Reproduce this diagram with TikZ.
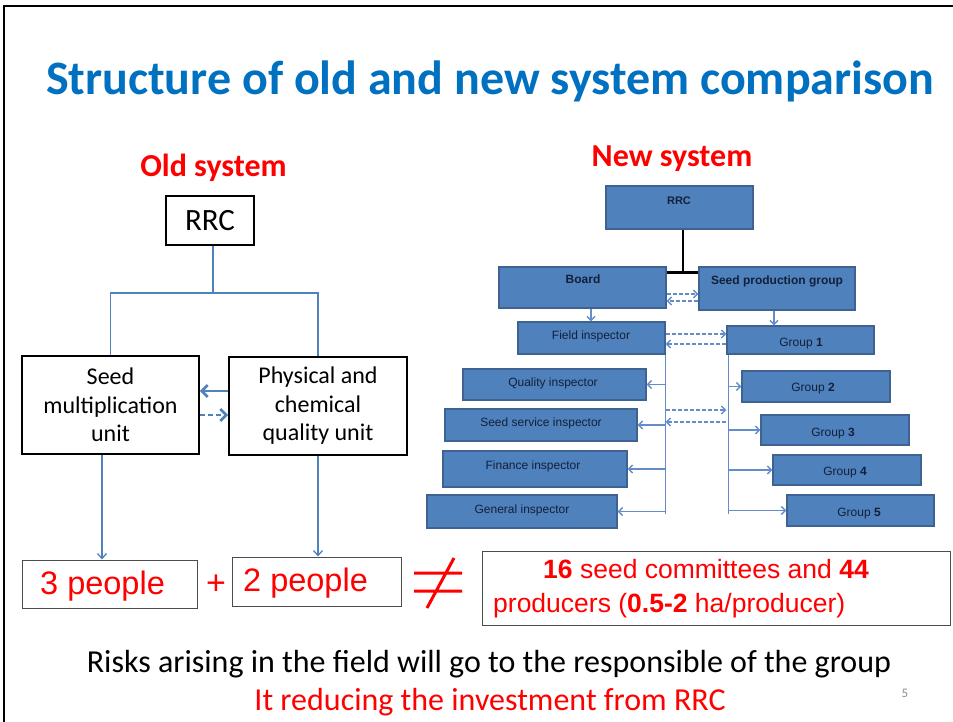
\documentclass[tikz,border=0pt]{standalone}
\usepackage{fontspec}
\setmainfont{Carlito}
\newfontfamily\arialf{Liberation Sans}
\usetikzlibrary{arrows.meta}
\definecolor{titleblue}{RGB}{0,112,192}
\definecolor{boxblue}{RGB}{79,129,189}
\definecolor{boxedge}{RGB}{62,98,145}
\definecolor{linkblue}{RGB}{79,129,189}
\definecolor{nline}{RGB}{100,140,200}
\definecolor{navy}{RGB}{18,32,58}
\definecolor{pagegray}{RGB}{140,140,140}
\newcommand{\rbox}[7]{\node[#1,minimum width={#5-#3},minimum height={#6-#4}] (#2) at ({(#3+#5)/2},{(#4+#6)/2}) {#7};}
\newcommand{\fs}[2]{\fontsize{#1}{#2}\selectfont}
\begin{document}
\begin{tikzpicture}[x=1pt,y=-1pt,
  oldbox/.style={draw=black,line width=1.8pt,fill=white,inner sep=0pt,align=center},
  pbox/.style={draw=black!70,line width=1pt,inner sep=0pt},
  nbox/.style={draw=boxedge,line width=1.2pt,fill=boxblue,inner sep=0pt},
  ntext/.style={font=\arialf\fontsize{12}{14}\selectfont,text=navy,inner sep=0pt},
  oldlink/.style={draw=linkblue,line width=1.3pt},
  oldarrow/.style={draw=linkblue,line width=1.3pt,-{Straight Barb[length=5pt,width=9pt]}},
  thickarrow/.style={draw=linkblue,line width=2.6pt,-{Straight Barb[length=6pt,width=12pt]}},
  narrow/.style={draw=nline,line width=1.4pt,-{Straight Barb[length=4pt,width=8pt]}},
  ndash/.style={narrow,dash pattern=on 4pt off 2pt},
  redtxt/.style={text=red,inner sep=0pt}
]
\useasboundingbox (0,0) rectangle (953,722);
\fill[white] (0,0) rectangle (953,722);
% frame
\draw[line width=2.6pt] (953,6) -- (4,6) -- (4,722);
% title
\node[anchor=base,text=titleblue,inner sep=0pt,font=\bfseries\fs{48}{58}] (title) at (490,95) {Structure of old and new system comparison};
\node[anchor=base,redtxt,font=\bfseries\fs{32}{38}] (oldh) at (213.5,177) {Old system};
\node[anchor=base,redtxt,font=\bfseries\fs{32}{38}] (newh) at (672,167) {New system};
% ---------- old system
\rbox{oldbox,font=\fs{31}{37}}{orrc}{166}{196}{254}{245}{RRC}
\rbox{oldbox,font=\fs{24}{28.5}}{seed}{22}{356}{199}{454}{Seed\\multiplication\\unit}
\rbox{oldbox,font=\fs{24}{28.5}}{phys}{229}{357}{407}{455}{Physical and\\chemical\\quality unit}
\draw[oldlink] ([xshift=3pt]orrc.south) -- ++(0,47) coordinate (oj);
\draw[oldlink] (seed.north) |- (oj) -| (phys.north);
\path ([yshift=15pt]phys.west) coordinate (a1);
\draw[thickarrow] (a1) -- (a1 -| seed.east);
\path ([yshift=-9pt]phys.west) coordinate (a2);
\draw[thickarrow,dash pattern=on 5pt off 3pt] (a2 -| seed.east) -- (a2);
% people boxes
\rbox{pbox}{ppl3}{22}{560}{197}{608}{}
\rbox{pbox}{ppl2}{232}{557}{401}{606}{}
\node[anchor=base west,redtxt,font=\arialf\fs{32.5}{38}] (t3) at (40,594) {3 people};
\node[anchor=base west,redtxt,font=\arialf\fs{32.5}{38}] (t2) at (243,591) {2 people};
\node[redtxt,font=\arialf\fs{34}{40}] (plus) at (216,585) {+};
\path ([xshift=-8.5pt]seed.south) coordinate (sd);
\draw[oldarrow] (sd) -- (sd |- ppl3.north);
\draw[oldarrow] (phys.south) -- (phys.south |- ppl2.north);
% not equal sign
\draw[red,line width=3pt] (414,573) -- (462,573) (414,591) -- (462,591) (454,558) -- (427,608);
% right box
\rbox{pbox}{prod}{482}{551}{950}{625}{}
\node[anchor=base west,redtxt,font=\arialf\fs{26.5}{32}] (l1) at (543,578) {\textbf{16} seed committees and \textbf{44}};
\node[anchor=base west,redtxt,font=\arialf\fs{26.5}{32}] (l2) at (493,612) {producers (\textbf{0.5-2} ha/producer)};
% bottom text
\node[anchor=base,inner sep=0pt,font=\fs{32}{38}] (risk) at (489,672) {Risks arising in the field will go to the responsible of the group};
\node[anchor=base,redtxt,font=\fs{32}{38}] (inv) at (490,710) {It reducing the investment from RRC};
\node[anchor=base,inner sep=0pt,text=pagegray,font=\fs{13}{15}] (pg) at (905,697) {5};
% ---------- new system
\rbox{nbox}{nrrc}{606}{186}{753}{229}{}
\rbox{nbox}{board}{499}{267}{666}{308}{}
\rbox{nbox}{spg}{699}{267}{855}{310}{}
\rbox{nbox}{fi}{518}{322}{665}{354}{}
\rbox{nbox}{g1}{727}{326}{874}{354}{}
\rbox{nbox}{qi}{463}{369}{646}{400}{}
\rbox{nbox}{ssi}{445}{409}{637}{441}{}
\rbox{nbox}{fin}{443}{451}{627}{487}{}
\rbox{nbox}{gen}{427}{495}{617}{528}{}
\rbox{nbox}{g2}{742}{371}{890}{402}{}
\rbox{nbox}{g3}{761}{415}{909}{445}{}
\rbox{nbox}{g4}{773}{455}{921}{485}{}
\rbox{nbox}{g5}{787}{495}{934}{526}{}
\node[ntext,font=\arialf\bfseries\fontsize{11}{13}\selectfont] (tnrrc) at (679,201) {RRC};
\node[ntext,font=\arialf\bfseries\fontsize{12}{14}\selectfont] (tboard) at (583,279) {Board};
\node[ntext,font=\arialf\bfseries\fontsize{12}{14}\selectfont] (tspg) at (777,281) {Seed production group};
\node[ntext] (tfi) at (591,336) {Field inspector};
\node[ntext] (tg1) at (801,344) {Group \textbf{1}};
\node[ntext] (tqi) at (553,383) {Quality inspector};
\node[ntext] (tssi) at (541,423) {Seed service inspector};
\node[ntext] (tfin) at (533,466) {Finance inspector};
\node[ntext] (tgen) at (522,510) {General inspector};
\node[ntext] (tg2) at (813,389) {Group \textbf{2}};
\node[ntext] (tg3) at (833,434) {Group \textbf{3}};
\node[ntext] (tg4) at (845,473) {Group \textbf{4}};
\node[ntext] (tg5) at (859,514) {Group \textbf{5}};
% black connector
\draw[line width=2.6pt] ([xshift=3.5pt]nrrc.south) -- ++(0,43) coordinate (nj);
\draw[line width=2.6pt] (board.east |- nj) -- (spg.west |- nj);
% board <-> spg dashed
\path (board.east) ++(0,6.5) coordinate (d1);
\draw[ndash] (d1) -- (d1 -| spg.west);
\path (board.east) ++(0,13.5) coordinate (d2);
\draw[ndash] (d2 -| spg.west) -- (d2);
% down arrows
\path (board.south) ++(8.5,0) coordinate (b1);
\draw[narrow] (b1) -- (b1 |- fi.north);
\path (spg.south) ++(-3,0) coordinate (s1);
\draw[narrow] (s1) -- (s1 |- g1.north);
% fi <-> g1 dashed
\path (fi.east) ++(0,-4) coordinate (f1);
\draw[ndash] (f1) -- (f1 -| g1.west);
\path (fi.east) ++(0,6) coordinate (f2);
\draw[ndash] (f2 -| g1.west) -- (f2);
% left trunk
\draw[draw=nline,line width=1.4pt] (fi.south east) -- ++(0,159);
\foreach \b in {qi,ssi,fin,gen}{\draw[narrow] (\b.east -| fi.south east) -- (\b.east);}
% right trunk
\path ([xshift=2pt]g1.south west) coordinate (rv);
\draw[draw=nline,line width=1.4pt] (rv) -- ++(0,159);
\foreach \b in {g2,g3,g4,g5}{\draw[narrow] (\b.west -| rv) -- (\b.west);}
% middle dashed
\path (ssi.east -| fi.east) ++(0,-15) coordinate (m1);
\draw[ndash] (m1) -- (m1 -| g1.west);
\path (ssi.east -| fi.east) ++(0,-3) coordinate (m2);
\draw[ndash] (m2 -| g1.west) -- (m2);
\end{tikzpicture}
\end{document}
